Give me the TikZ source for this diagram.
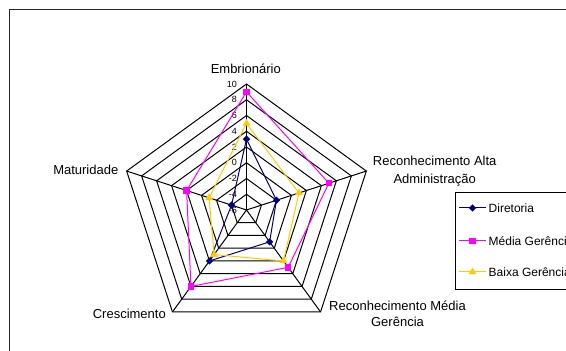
\documentclass[tikz,border=0pt]{standalone}
\usepackage{fontspec}
\setmainfont{Liberation Sans}
\usetikzlibrary{shapes.geometric}
\definecolor{dirblue}{RGB}{0,0,128}
\definecolor{medmag}{RGB}{255,0,255}
\definecolor{baixagold}{RGB}{255,204,0}

\begin{document}
\begin{tikzpicture}[x=1pt,y=1pt,
  declare function={rr(\v)=(\v+6)*7.875;},
  grid/.style={black, line width=1pt, line join=miter},
  serie/.style={line width=1pt},
  mkdiam/.style={diamond, fill=dirblue, inner sep=0pt, minimum size=7.5pt},
  mksq/.style={rectangle, fill=medmag, inner sep=0pt, minimum size=6.5pt},
  mktri/.style={regular polygon, regular polygon sides=3, fill=baixagold, inner sep=0pt, minimum size=9pt},
  cat/.style={font=\fontsize{13}{15.7}\selectfont, inner sep=0pt},
  tick/.style={font=\fontsize{9}{10}\selectfont, inner sep=0pt, anchor=east},
  leg/.style={font=\fontsize{12}{14}\selectfont, inner sep=0pt, anchor=west}
]
\useasboundingbox (0,0) rectangle (566,351);
\clip (0,0) rectangle (566,351);
\fill[white] (0,0) rectangle (566,351);

% chart area frame
\draw[black!85, line width=1.4pt] (9.3,-2) -- (9.3,341.6) -- (570,341.6);

% radar grid
\coordinate (O) at (246.5,141);
\foreach \v in {-4,-2,...,10} {
  \draw[grid, shift={(O)}] (90:{rr(\v)}) -- (18:{rr(\v)}) -- (-54:{rr(\v)})
    -- (234:{rr(\v)}) -- (162:{rr(\v)}) -- cycle;
}
\foreach \a/\n in {90/E,18/A,-54/M,234/C,162/T}
  \draw[grid] (O) -- ++(\a:126) coordinate (v\n);

% scale on the first axis
\foreach \v in {-6,-4,...,10}
  \path (O) ++(-9.5,{rr(\v)}) node[tick] (t\v) {\v};

% category labels (base = baseline of the last line)
\node[cat, anchor=base] (cE) at (245.8,277) {Embrionário};
\node[cat, align=center, anchor=base] (cA) at (434.7,167.7) {Reconhecimento Alta\\[2pt]Administração};
\node[cat, align=center, anchor=base] (cM) at (397.5,24.3) {Reconhecimento Média\\Gerência};
\node[cat, anchor=base east] (cC) at (166,32) {Crescimento};
\node[cat, anchor=base east] (cT) at (118.5,176) {Maturidade};

% data points
\foreach \s/\a/\b/\c/\d/\e in {d/3/-2/-1/2/-4, m/9/5/3/6/2, b/5/1/2/1/-1} {
  \path (O) ++(90:{rr(\a)}) coordinate (\s1);
  \path (O) ++(18:{rr(\b)}) coordinate (\s2);
  \path (O) ++(-54:{rr(\c)}) coordinate (\s3);
  \path (O) ++(234:{rr(\d)}) coordinate (\s4);
  \path (O) ++(162:{rr(\e)}) coordinate (\s5);
}

% series
\draw[serie, dirblue] (d1) -- (d2) -- (d3) -- (d4) -- (d5) -- cycle;
\foreach \i in {1,...,5} \node[mkdiam] (dm\i) at (d\i) {};
\draw[serie, medmag] (m1) -- (m2) -- (m3) -- (m4) -- (m5) -- cycle;
\foreach \i in {1,...,5} \node[mksq] (mm\i) at (m\i) {};
\draw[serie, baixagold] (b1) -- (b2) -- (b3) -- (b4) -- (b5) -- cycle;
\foreach \i in {1,...,5} \node[mktri] (bm\i) at (b\i) {};

% legend
\draw[black, line width=1pt] (570,158.3) -- (455,158.3) -- (455,61) -- (570,61);
\coordinate (l1a) at (459,143); \coordinate (l1b) at (486,143);
\coordinate (l2a) at (459,110); \coordinate (l2b) at (486,110);
\coordinate (l3a) at (459,79);  \coordinate (l3b) at (486,79);
\draw[serie, dirblue] (l1a) -- (l1b);
\node[mkdiam] (lm1) at (472.5,143) {};
\node[leg] (lt1) at (488.5,143) {Diretoria};
\draw[serie, medmag] (l2a) -- (l2b);
\node[mksq] (lm2) at (472.5,110) {};
\node[leg] (lt2) at (488.5,110) {Média Gerência};
\draw[serie, baixagold] (l3a) -- (l3b);
\node[mktri] (lm3) at (472.5,79) {};
\node[leg] (lt3) at (488.5,79) {Baixa Gerência};
\end{tikzpicture}
\end{document}
